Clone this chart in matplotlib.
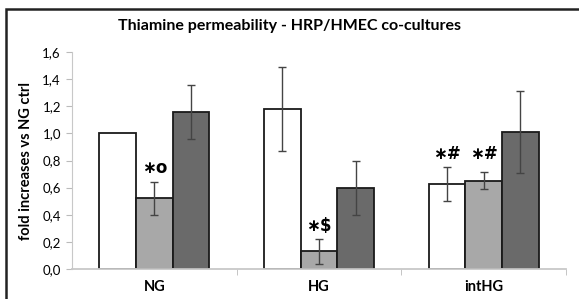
import numpy as np
import matplotlib.pyplot as plt
from matplotlib.patches import Rectangle

plt.rcParams['font.family'] = ['Lato', 'DejaVu Sans']

groups = ["NG", "HG", "intHG"]
white_vals = [1.00, 1.18, 0.63]
white_err = [0.0, 0.31, 0.125]
gray_vals = [0.52, 0.13, 0.65]
gray_err = [0.125, 0.09, 0.063]
dark_vals = [1.16, 0.60, 1.01]
dark_err = [0.20, 0.20, 0.30]
marks_white = ["", "", "\u2217#"]
marks_gray = ["\u2217o", "\u2217$", "\u2217#"]

fig = plt.figure(figsize=(5.79, 2.99), dpi=100)
ax = fig.add_axes([72/579, 30/299, 494/579, 217/299])

# frame around the chart (runs off right/bottom edge like the source)
fig.patches.append(Rectangle((6/579, -0.05), 1.2, 0.05 + 290/299, transform=fig.transFigure,
                             fill=False, edgecolor='#222222', linewidth=1.8))

x = np.arange(len(groups))
w = 0.223
series = [(white_vals, white_err, 'white'), (gray_vals, gray_err, '#a8a8a8'), (dark_vals, dark_err, '#6a6a6a')]
for i, (vals, errs, col) in enumerate(series):
    pos = x + (i - 1) * w
    ax.bar(pos, vals, w, color=col, edgecolor='#1a1a1a', linewidth=1.3, zorder=2)
    yerr = np.array(errs)
    m = yerr > 0
    ax.errorbar(pos[m], np.array(vals)[m], yerr=yerr[m], fmt='none', ecolor='#444444',
                elinewidth=1.0, capsize=3, capthick=1.0, zorder=3)

for g in range(len(groups)):
    tops = []
    if marks_white[g]:
        tops.append(white_vals[g] + white_err[g])
    if marks_gray[g]:
        tops.append(gray_vals[g] + gray_err[g])
    ytxt = max(tops) + 0.03
    if marks_white[g]:
        ax.text(x[g] - w, ytxt, marks_white[g], ha='center', va='bottom', fontsize=12,
                fontweight='bold', family='DejaVu Sans')
    if marks_gray[g]:
        ax.text(x[g], ytxt, marks_gray[g], ha='center', va='bottom', fontsize=12,
                fontweight='bold', family='DejaVu Sans')

ax.set_xlim(-0.5, 2.5)
ax.set_ylim(0, 1.6)
ax.set_yticks(np.arange(0, 1.61, 0.2))
ax.set_yticklabels([f"{v:.1f}".replace('.', ',') for v in np.arange(0, 1.61, 0.2)], fontsize=9.5)
ax.set_xticks(x)
ax.set_xticklabels(groups, fontsize=10.5, fontweight='bold')
ax.set_xticks([0.5, 1.5, 2.5], minor=True)
ax.tick_params(axis='x', which='major', length=0, pad=8)
ax.tick_params(axis='x', which='minor', length=4, color='#bbbbbb')
ax.tick_params(axis='y', length=4, color='#bbbbbb', pad=4)
for s in ['top', 'right']:
    ax.spines[s].set_visible(False)
ax.spines['left'].set_color('#c8c8c8')
ax.spines['bottom'].set_color('#c8c8c8')
ax.spines['bottom'].set_linewidth(1.3)

ax.set_ylabel("fold increases vs NG ctrl", fontsize=10.5, fontweight='bold', labelpad=7)
fig.text(0.5, 1 - 26/299, "Thiamine permeability - HRP/HMEC co-cultures", ha='center', va='center',
         fontsize=11.5, fontweight='bold')

fig.savefig("out.png", dpi=100)
